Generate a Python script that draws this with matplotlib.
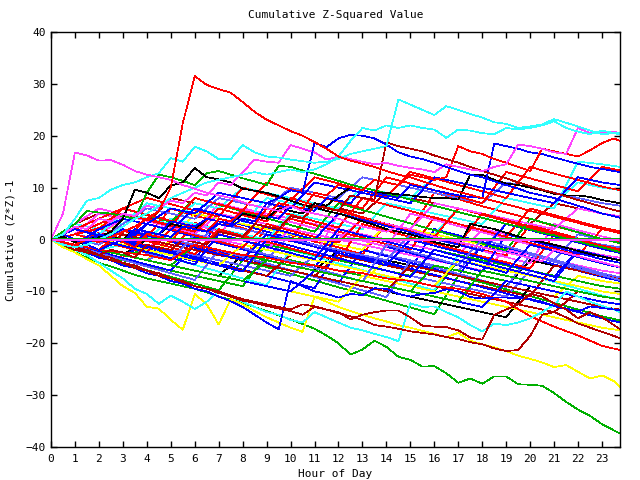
import matplotlib
matplotlib.use("Agg")
import matplotlib.pyplot as plt
import numpy as np

# ---------------- data ----------------
# half-hour grid for the traced, prominent series
hours_fine = [h * 0.5 for h in range(48)] + [23.75]
# hourly grid for the dense cluster of series
hours = list(range(24)) + [23.75]

red_peak = [0, -0.5, -1, 0, -0.5, 0.5, 1.5, 2.5, 4, 5.5, 10, 22.4, 31.5, 29.8, 29, 28.3,
            26.5, 24.6, 23.1, 22, 20.9, 20, 18.8, 17.5, 16, 15.2, 14.6, 14, 13.2, 12.5, 12, 11.2,
            10.5, 9.8, 9.2, 8.6, 8, 7.4, 6.8, 6.2, 5.5, 5, 4.4, 3.8, 3.2, 2.6, 2, 1.5, 1.2]
magenta_top = [0, 5, 16.8, 16.2, 15.2, 15.3, 14.4, 13.2, 12.5, 12, 11.5, 10.5, 9.8, 9, 8.5, 8,
               7.2, 6.5, 6, 5.5, 6.5, 5.5, 5, 4.5, 4, 3.2, 2.5, 2, 1.5, 2.5, 2, 1.2,
               0.5, 0, -0.5, -1, -1.5, -2, -2.5, -3, -3.6, -4.2, -2, -2.6, -3.2, -3.8, -4.4, -5, -5.3]
cyan_top = [0, 1, 4, 7.5, 8, 9.6, 10.5, 11, 12, 12.8, 15.7, 15, 17.9, 17, 15.5, 15.5,
            18.2, 16.8, 16, 15.8, 15.4, 15.1, 14.8, 15, 15.5, 16.5, 17, 17.5, 18, 27, 26, 25,
            24, 25.7, 25, 24.2, 23.5, 22.6, 22.3, 21.5, 21.8, 22.2, 23.2, 22.5, 21.8, 21, 20.3, 20.5, 20.6]
cyan_second = [0, -1, -1.5, -1, 0, 1, 2.5, 4, 5, 6.5, 8, 9, 10, 11, 11.5, 12,
               12.5, 13, 12.5, 13, 13.5, 13, 13.5, 14.5, 16, 19, 21.5, 21, 22, 21.5, 22, 21.5,
               21.2, 19.6, 21.2, 21, 20.5, 20.3, 21.5, 21.2, 21.5, 22, 22.8, 21.5, 20.8, 20.3, 21, 20.5, 20.3]
green_bottom = [0, -1.2, -2.5, -3.5, -4.5, -5.2, -6, -6.8, -7.5, -8, -8.5, -9, -9.5, -10.2, -11, -11.6,
                -12.2, -13, -13.8, -14.6, -15.4, -16.3, -17.2, -18.5, -20, -22.2, -21.2, -19.5, -20.7, -22.6, -23.2, -24.5,
                -24.4, -25.8, -27.6, -26.8, -27.8, -26.4, -26.4, -27.9, -28, -28.2, -29.6, -31.3, -32.8, -34, -35.6, -36.8, -37.4]
yellow_low = [0, -1.5, -2.5, -3.8, -5, -7, -9, -10.3, -13, -13.3, -15.5, -17.4, -10.5, -12.5, -16.4, -11.5,
              -12.5, -13.8, -15, -16, -17, -17.8, -11, -12, -13, -13.8, -14.5, -15.2, -15.8, -16.5, -17, -17.6,
              -18.2, -18.8, -18, -19.5, -20.2, -20.8, -21.5, -22.4, -23, -23.7, -24.6, -24.2, -25.5, -26.8, -26.2, -27.3, -28.4]
cyan_low = [0, -1, -2, -3, -4.5, -6, -7.5, -9.5, -10.5, -12.4, -10.8, -12, -13.4, -12, -10, -11,
            -12, -13, -14, -14.5, -15.5, -16, -14, -15, -16, -17, -17.5, -18.2, -18.8, -19.6, -12.3, -13,
            -12.9, -14, -15, -16.5, -17.7, -16.2, -16.5, -16, -15.2, -14, -12.6, -10, -11, -12, -12.8, -13.5, -14]
blue_dip = [0, -1, -2, -2.5, -3.5, -4, -5, -5.5, -6.5, -7, -8, -8.5, -9.5, -10, -11, -11.9,
            -13, -14.5, -16, -17.3, -8, -9, -10, -10.5, -11.2, -10.5, -10.7, -9.4, -9.5, -10.5, -11, -10.5,
            -10.3, -9.6, -10, -11.1, -11.4, -11.2, -11.2, -11.3, -11.5, -12, -12.8, -13.3, -13.9, -12.9, -13.2, -13.5, -13.6]
darkred_low1 = [0, -0.5, -1.5, -2, -3, -3.5, -4.5, -5, -6, -6.5, -7.5, -8, -9, -9.5, -10.3, -11,
                -11.8, -12.2, -12.8, -13.3, -13.8, -14.5, -13, -13.5, -14, -15.4, -14.5, -14, -13.7, -13.7, -15, -16.6,
                -16.8, -16.9, -17.5, -18.9, -19.3, -14.5, -13.5, -12.5, -10.5, -11, -12.3, -13.5, -15.2, -14, -15, -16.5, -17.3]
darkred_low2 = [0, -1, -2, -2.5, -3, -4, -4.5, -5.5, -6, -7, -7.5, -8.2, -9, -9.5, -10, -10.8,
                -11.5, -12, -12.5, -13, -13.5, -12.5, -12.9, -13.5, -14.2, -14.8, -15.5, -16.5, -16.8, -17.2, -17.7, -18,
                -18.3, -18.8, -19.2, -19.8, -20.2, -21, -21.5, -21.3, -18.6, -14.5, -14, -15, -16.2, -17, -17.8, -18.6, -19]
blue_top1 = [0, -1, -1.5, -1, -2, -1, 0, -0.5, 1.5, 1, 0.5, 2.5, 2, 1.5, 3, 2.5,
             4, 3.5, 7, 8, 9.5, 9, 18.6, 17.8, 19.5, 20.2, 20, 19.5, 18.3, 16.8, 16, 15.5,
             14.8, 14, 13.2, 12.5, 12, 11.2, 10.5, 9.8, 9, 8.5, 8, 7.2, 6.5, 5.8, 5, 4.5, 4.2]
blue_top2 = [0, 1, 0, -1, 1, 0.5, -0.5, 2, 1.5, 1, 3.5, 3, 2.5, 4, 3.5, 3,
             5.5, 5, 4.5, 4, 6.5, 6, 5.5, 8, 7.5, 7, 9.5, 9, 8.5, 8, 10.5, 10,
             9.5, 9, 8.5, 8.2, 8, 18.5, 18, 17.5, 16.8, 16.5, 15.8, 15.2, 14.6, 14, 13.6, 13.2, 13]
magenta_second = [0, 1, 2.5, 2, 4, 3.5, 5, 4.5, 6.5, 6, 7.5, 7, 9, 8.5, 11, 10.5,
                  13, 15.4, 15, 14.8, 18.2, 17.5, 16.8, 15.4, 16, 15.5, 15, 14.5, 14.8, 14.2, 13.8, 13.5,
                  13, 14.5, 14, 13.5, 13.2, 14, 14.5, 18.3, 18, 17.5, 16.8, 16.5, 21.5, 20.5, 20.5, 20.8, 20.5]
red_second = [0, -0.5, -1.5, -1, -2, 0, -0.5, -1.5, 1, 0.5, -0.5, 2.5, 2, 1.5, 4, 3.5,
              5.5, 5, 4.5, 7, 6.5, 6, 9, 8.5, 10.5, 10, 9.5, 11.5, 11, 10.5, 12.5, 12,
              11.5, 12, 18, 17, 16.5, 15.5, 14.8, 14, 13.2, 17.5, 17, 16.5, 16, 17.2, 18.6, 19.5, 19]
darkred_top = [0, -1, -1.5, -2.5, -3, -2, -2.5, -3.5, -1, -1.5, -2, 0, -0.5, -1, 1.5, 1,
               0.5, 3, 2.5, 2, 4.5, 4, 6.5, 6, 5.5, 8.5, 8, 7.7, 18.7, 18, 17.5, 17,
               16.2, 15.5, 14.8, 14, 13.2, 12.5, 11.8, 11, 10.3, 9.6, 9, 8.3, 7.6, 7, 6.3, 5.7, 5.4]
black_first = [0, -0.5, -1, 0, 0.5, 1.5, 4, 9.6, 9, 8, 10.4, 11, 13.8, 12, 11.6, 11,
               9.8, 9.4, 9, 8.3, 7.5, 6.7, 6.2, 5.5, 5, 4.3, 3.5, 2.8, 2, 1.5, 1, 0.3,
               -0.5, -1, -1.5, 3, 2.5, 2, 1.3, 0.6, 0, -0.5, -1, -1.6, -2.2, -2.8, -3.3, -3.8, -4]
black_second = [0, 0.5, -0.5, -1, 1, 0.5, 0, 2, 1.5, 1, 3, 2.5, 2, 4, 3.5, 3,
                5, 4.5, 4, 6, 5.5, 5, 7, 6.5, 8.5, 10, 9.5, 9, 9, 8.7, 8.5, 8.2,
                8, 8, 7.7, 12.5, 12.5, 11.5, 10.8, 10.5, 10, 9.5, 8.8, 8.5, 8.5, 8.2, 7.6, 7.2, 7]
green_top = [0, 1.5, 3, 5.5, 5.2, 5, 4.5, 4, 9, 12.5, 12, 11.3, 10.5, 12.8, 13.2, 12.5,
             11.8, 11.2, 10.5, 14.2, 14, 13.3, 12.7, 12, 11.3, 10.6, 10, 9.5, 8.9, 8.3, 7.7, 7,
             6.5, 5.9, 5.3, 4.7, 4.2, 3.6, 3, 2.5, 1.9, 1.3, 0.8, 0.2, -0.4, -1, -1.5, -2.1, -2.4]

# hourly cluster series, grouped by line colour
red_walks = [
    [0, -1.2, -2.5, -3.5, 1.2, -0.1, -1.4, -2.6, -3.9, 2.3, 1, -0.4, -1.5, -2.9, 3.1, 1.8, 0.6, -0.8, -2, -3.1, 2.8, 1.5, 0.2, -1.1, -1.8],
    [0, 1, 3, 1.7, 0.4, 6, 4.6, 3.5, 2.2, 0.8, -0.3, 7, 5.7, 4.3, 3, 1.9, 9, 7.8, 6.4, 5.2, 4, 2.6, 1.4, 0.1, -0.6],
    [0, -1, 1.3, 0.1, -1.2, -2.3, 3.2, 1.9, 0.7, -0.6, 4, 2.8, 1.5, 0.4, -0.9, -2, 4.3, 3, 1.8, 0.5, -0.7, -1.8, -3, 2, 1.3],
    [0, 1, 2.2, 0.9, -0.3, -1.5, -2.8, 2, 0.7, -0.4, -1.7, -2.9, -4.1, 3, 1.7, 0.5, -0.8, -2, -3.3, -4.4, -5.6, 1, -0.2, -1.5, -2.2],
    [0, 2, 0.8, -0.4, 4, 2.7, 1.5, 6, 4.7, 3.5, 8, 6.6, 5.5, 4.2, 2.9, 1.7, 0.5, 6, 4.8, 3.5, 2.3, 1, -0.2, -1.4, -2],
    [0, 1, 2, 6, 4.8, 3.6, 2.3, 1, -0.1, 6, 4.8, 3.5, 2.3, 8, 6.7, 5.5, 4.2, 3, 1.8, 0.5, 6, 4.7, 3.5, 2.3, 1.6],
    [0, 1, -0.2, -1.4, -2.5, 2, 0.8, -0.4, -1.6, 3, 1.7, 0.5, -0.6, 4, 2.8, 1.5, 0.3, -1, 5, 3.7, 2.5, 1.3, 0, -1.2, -1.9],
    [0, 2, 4, 6, 8, 6.8, 5.6, 4.4, 10, 8.7, 7.5, 12, 10.8, 9.5, 8.3, 13, 11.8, 10.5, 9.3, 8, 14, 12.7, 11.5, 10.2, 9.5],
    [0, 1, 3, 5, 3.8, 2.6, 8, 6.8, 5.6, 11, 9.7, 8.5, 7.3, 6, 12, 10.8, 9.5, 8.3, 7, 13, 11.8, 10.5, 9.3, 14, 13.3],
    [0, -1, -2, -2.5, -3, -4, -1, -2, -3, -3.5, -4.5, -5, -6, -6.5, -7.5, -8, -9, -9.5, -10.5, -12, -14.8, -16.8, -18.5, -20.5, -21.3],
]
blue_walks = [
    [0, 2, 0.7, -0.5, -1.8, -3, -4.2, 4, 2.8, 1.5, 0.3, -1, -2.2, -3.4, -4.7, -5.9, 2, 0.8, -0.5, -1.7, -3, -4.2, -5.5, -6.6, -7.3],
    [0, -1.1, -2.3, -3.6, -4.8, -6, -1, -2.2, -3.5, -4.7, -5.9, -7.2, -8.4, -2, -3.2, -4.5, -5.7, -7, -1, -2.3, -3.5, -4.8, -6, -7.2, -8],
    [0, -1, -2, -3, -1, -2.2, -3.4, -4.6, -5.8, -7, -8.2, -9.4, -2, -3.2, -4.4, -5.6, -6.8, -8, -9.2, -10.4, -11.6, -12.8, -14, -15.2, -16],
    [0, 1, -0.2, -1.4, 3, 1.8, 0.5, -0.7, -1.9, -3.1, -4.3, -5.5, 1, -0.2, -1.4, -2.6, -3.8, -5, -6.2, 1, -0.2, -1.4, -2.6, -3.8, -4.5],
    [0, 1, -0.2, 2, 0.8, -0.4, -1.6, -2.8, -4, 1, -0.2, -1.4, -2.6, -3.8, -5, 0, -1.2, -2.4, -3.6, -4.8, -6, -7.2, -2, -3.2, -4],
    [0, -1, -2, -3, -4, -5, -6, -7, -8, -9, -10, -6, -7, -8, -9, -10, -11, -12, -13, -8, -9, -10, -11, -12, -12.5],
    [0, -1, 0, -1.2, -2.4, -3.6, -4.8, 1, -0.2, -1.4, -2.6, -3.8, 2, 0.8, -0.4, -1.6, -2.8, -4, -5.2, -6.4, -1, -2.2, -3.4, -4.6, -5.4],
    [0, -1, 1, -0.2, -1.4, -2.6, -3.8, -5, -6.2, 0, -1.2, -2.4, -3.6, -4.8, -6, -7.2, -2, -3.2, -4.4, -5.6, -6.8, -8, -2, -3.2, -4],
    [0, 2, 0.8, -0.4, 3, 1.8, 6, 4.8, 3.6, 2.4, 1.2, 0, 5, 3.8, 2.6, 1.4, 0.2, -1, -2.2, 3, 1.8, 0.6, -0.6, -1.8, -2.6],
    [0, -1, 2, 4, 3, 6, 5, 9, 8, 7, 6, 11, 10, 9, 8, 7, 12, 11, 10, 9, 8, 7, 12, 11, 10.5],
]
lightblue_walks = [
    [0, -1, -2, 2, 1, 0, -1, -2, -3, -4, 1, 0, -1, -2, -3, -4, -5, -6, -1, -2, -3, -4, 1, 0, -0.5],
    [0, -1, -2, -3, -4, -2, -3, -4, -5, -6, -7, -3, -4, -5, -6, -7, -8, -9, -10, -11, -6, -7, -8, -9, -9.5],
    [0, -1.3, -2.6, -3.9, -5.2, -6.5, -7.8, -2, -3.3, -4.6, -5.9, -7.2, -8.5, -9.8, -11.1, -4, -5.3, -6.6, -7.9, -9.2, -3, -4.3, -5.6, -6.9, -7.8],
    [0, 0, -1, 2, 1, 0, -1, 3, 2, 1, 0, -1, -2, -3, -4, 1, 0, -1, -2, 3, 2, 1, 0, -1, -1.5],
    [0, -1, 0, -1.3, -2.6, -3.9, 1, -0.3, -1.6, -2.9, -4.2, -5.5, -6.8, -8.1, -1, -2.3, -3.6, -4.9, 0, -1.3, -2.6, -3.9, -5.2, -6.5, -7.3],
    [0, 1, 0, 3, 6, 5, 4, 8, 7, 6, 10, 9, 8, 12, 11, 10, 9, 8, 7, 11, 10, 9, 8, 7, 6.5],
]
green_walks = [
    [0, -1.5, -3, -4, -5, -6, -7, -8, -9, -3, -4, -5, -6, -7, -8, -9, -10, -4, -5, -6, -7, -8, -9, -10, -10.5],
    [0, -2, -3.3, -4.6, -5.9, -7.2, -8.5, -9.8, -4, -5.3, -6.6, -7.9, -9.2, -10.5, -11.8, -13.1, -14.4, -7, -8.3, -9.6, -10.9, -12.2, -13.5, -14.8, -15.6],
    [0, -1, -2, -3, -2, -3, -4, -5, -6, -1, -2, -3, -4, -5, -6, -7, -2, -3, -4, -5, -6, -7, -8, -9, -9.5],
    [0, -1, -2, -3, -4, -5, -1, -2, -3, -4, -5, -6, -7, -8, -9, -10, -5, -6, -7, -8, -9, -10, -11, -12, -12.5],
    [0, 2, 4, 6, 4.7, 3.4, 8, 6.7, 5.4, 4.1, 2.8, 1.5, 7, 5.7, 4.4, 3.1, 1.8, 0.5, -0.8, -2.1, 4, 2.7, 1.4, 0.1, -0.7],
    [0, -1, -2, -3, -4, -5, -6, -7, -8, -4, -5, -6, -7, -8, -9, -10, -11, -12, -6, -7, -8, -9, -10, -11, -11.5],
]
magenta_walks = [
    [0, 3, 2, 5, 4, 3, 2, 1, 6, 5, 4, 3, 2, 1, 0, -1, -2, -3, 2, 1, 0, -1, -2, -3, -3.5],
    [0, -1, 0, -1.2, -2.4, 4, 2.8, 1.6, 0.4, -0.8, -2, -3.2, 5, 3.8, 2.6, 1.4, 0.2, -1, -2.2, -3.4, -4.6, 3, 1.8, 0.6, -0.2],
    [0, 2, 1, 4, 3, 2, 1, 0, -1, -2, 2, 1, 0, -1, -2, -3, -4, -5, -6, -2, -3, -4, -5, -6, -6.5],
    [0, 3, 6, 4.8, 3.6, 2.4, 1.2, 7, 5.8, 4.6, 3.4, 2.2, 1, -0.2, -1.4, 5, 3.8, 2.6, 1.4, 0.2, -1, -2.2, -3.4, -4.6, -5.4],
    [0, 1, 5, 4, 3, 2, 1, 5, 4, 3, 2, 1, 0, 4, 3, 2, 7, 6, 5, 4, 3, 2, 6, 5, 4.5],
]
cyan_walks = [
    [0, 2, 4, 3, 7, 6, 5, 4, 3, 8, 7, 6, 5, 4, 3, 2, 1, 6, 5, 4, 3, 2, 6, 5, 4.5],
    [0, -1, -2, -1, -2.3, -3.6, -4.9, -6.2, -7.5, -8.8, -2, -3.3, -4.6, -5.9, -7.2, -8.5, -9.8, -3, -4.3, -5.6, -6.9, -8.2, -9.5, -10.8, -11.6],
    [0, 3, 2, 1, 0, 4, 3, 2, 1, 0, 5, 4, 3, 2, 7, 6, 5, 4, 3, 8, 7, 6, 15, 14.5, 14],
    [0, 2, 1, 5, 4, 3, 7, 6, 10, 9, 8, 7, 6, 10, 9, 8, 12, 11, 10, 9, 8, 7, 11, 10, 9.5],
]
yellow_walks = [
    [0, -1, -2, -3, -4, 0, -1, -2, -3, -4, -5, -6, -7, -8, -4, -5, -6, -7, -8, -9, -10, -11, -7, -8, -8.5],
    [0, 1, 3, 2, 1, 0, 5, 4, 3, 2, 1, 0, -1, -2, 3, 2, 1, 0, -1, -2, -3, -4, -5, -6, -6.5],
    [0, -1, -2, -3, -4, -5, -6, -7, -8, -9, -10, -11, -12, -7, -8, -9, -10, -11, -12, -13, -14, -15, -16, -17, -17.5],
    [0, -1, 0, -1, -2, -3, -4, -5, -1, -2, -3, -4, -5, -6, -7, -8, -9, -4, -5, -6, -7, -8, -9, -10, -10.5],
]
darkred_walks = [
    [0, 3, 5, 4, 3, 8, 7, 6, 10, 9, 8, 7, 6, 5, 9, 8, 7, 6, 5, 4, 3, 7, 6, 5, 4.5],
    [0, -1, -2, 1, 0, -1, -2, -3, -4, -5, -6, -7, -3, -4, -5, -6, -7, -8, -9, -10, -11, -5, -6, -7, -7.5],
    [0, 1, 0, -1, -2, -3, -4, -5, -6, -7, -3, -4, -5, -6, -7, -8, -9, -10, -11, -12, -13, -14, -10, -11, -11.5],
    [0, -1, -2, 1, 0, -1, -2, -3, -4, -5, -6, -7, -8, -9, -10, -5, -6, -7, -8, -9, -10, -11, -12, -13, -13.5],
]
black_walks = [
    [0, -1, -2, -3, -4, -5, -6, -7, -3, -4, -5, -6, -2, -3, -4, -5, -6, -7, -8, -9, -4, -5, -6, -7, -7.5],
    [0, -1, -2, -3, 0, -1, -2, -3, -4, -5, -6, -7, -8, -9, -10, -11, -12, -13, -14, -15, -9, -10, -11, -12, -12.5],
]
zero_level = 0.0
reference_level = 0.3

# ---------------- style ----------------
RED, GREEN, BLUE, LBLUE = "#ff0000", "#00b000", "#0000ff", "#6060ff"
MAGENTA, CYAN, YELLOW, BLACK, DARKRED = "#ff44ff", "#33ffff", "#ffff00", "#000000", "#b00000"
LW = 0.5

plt.rcParams["font.family"] = ["DejaVu Sans Mono", "DejaVu Sans"]
fig = plt.figure(figsize=(6.4, 4.8), dpi=100)
ax = fig.add_axes([51 / 640, 1 - 447 / 480, (620 - 51) / 640, (447 - 32) / 480])

groups = [(red_walks, RED), (blue_walks, BLUE), (green_walks, GREEN), (magenta_walks, MAGENTA),
          (lightblue_walks, LBLUE), (cyan_walks, CYAN), (darkred_walks, DARKRED),
          (yellow_walks, YELLOW), (black_walks, BLACK)]
longest = max(len(g) for g, _ in groups)
for i in range(longest):
    for g, col in groups:
        if i < len(g):
            ax.plot(hours, g[i], color=col, lw=LW, antialiased=False)

prominent = [(green_bottom, GREEN), (yellow_low, YELLOW), (cyan_low, CYAN), (blue_dip, BLUE),
             (darkred_low1, DARKRED), (darkred_low2, DARKRED), (green_top, GREEN),
             (black_first, BLACK), (black_second, BLACK), (blue_top2, BLUE), (red_second, RED),
             (darkred_top, DARKRED), (magenta_second, MAGENTA), (blue_top1, BLUE),
             (cyan_second, CYAN), (cyan_top, CYAN), (magenta_top, MAGENTA), (red_peak, RED)]
for vals, col in prominent:
    ax.plot(hours_fine, vals, color=col, lw=LW, antialiased=False)

ax.plot([hours[0], hours[-1]], [reference_level, reference_level], color=GREEN, lw=0.72, antialiased=False)
ax.plot([hours[0], hours[-1]], [zero_level, zero_level], color=MAGENTA, lw=1.44, antialiased=False)

ax.set_xlim(0, 23.75)
ax.set_ylim(-40, 40)
ax.set_xticks(range(24))
ax.set_yticks(range(-40, 41, 10))
ax.tick_params(direction="in", length=4, width=1, top=True, right=True,
               labelsize=8, colors="black")
ax.tick_params(axis="x", pad=5)
ax.tick_params(axis="y", pad=4)
for s in ax.spines.values():
    s.set_linewidth(1.0)

fig.text(335.5 / 640, 1 - 15 / 480, "Cumulative Z-Squared Value", ha="center", va="center", fontsize=8)
fig.text(335.5 / 640, 1 - 474 / 480, "Hour of Day", ha="center", va="center", fontsize=8)
fig.text(11 / 640, 1 - 240 / 480, "Cumulative (Z*Z)-1", ha="center", va="center",
         rotation=90, fontsize=8)

fig.savefig("out.png", dpi=100)
